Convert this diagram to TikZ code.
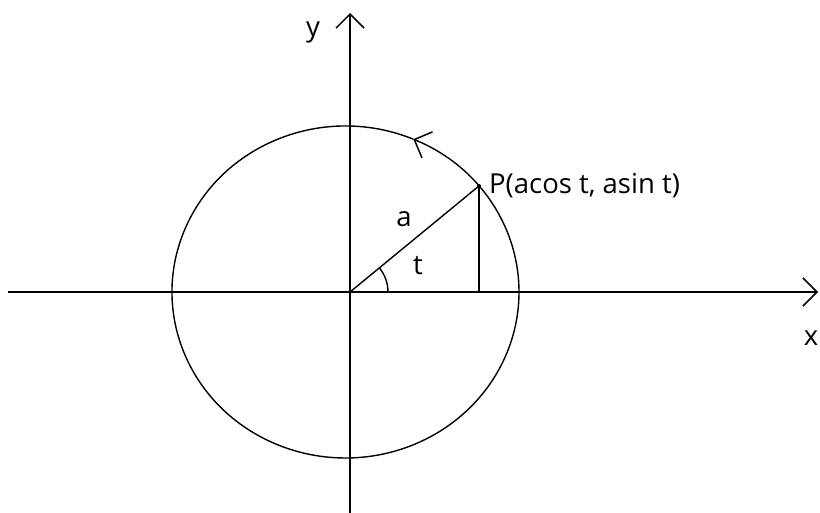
\documentclass[tikz,border=0pt]{standalone}
\usepackage{fontspec}
\setmainfont{Open Sans}
\usetikzlibrary{arrows.meta, positioning, calc}

\begin{document}
\begin{tikzpicture}[
    x=1pt, y=-1pt,
    axis/.style={line width=1.6pt, -{Straight Barb[length=14pt, width=28pt, line width=1.5pt]}},
    curve/.style={line width=1.4pt},
    lbl/.style={font=\fontsize{27.5}{31}\selectfont, inner sep=1pt}
]
\useasboundingbox[fill=white] (0,0) rectangle (820,513);

\coordinate (o) at (350,292);
\coordinate (c) at (345.5,292);
\coordinate (xl) at (8,292);
\coordinate (xr) at (818,292);
\coordinate (yb) at (350,513);
\coordinate (yt) at (350,13);
\coordinate (p) at ($(c)+(-39.7:173.5 and 166)$);
\coordinate (pf) at (p |- o);

% axes
\draw[axis] (xl) -- (xr);
\draw[axis] (yb) -- (yt);

% circle with direction mark
\draw[curve, -{Straight Barb[length=14pt, width=28pt, line width=1.5pt]}]
    ($(c)+(0:173.5 and 166)$) arc[start angle=0, end angle=-67, x radius=173.5, y radius=166];
\draw[curve] ($(c)+(-67:173.5 and 166)$) arc[start angle=-67, end angle=-360, x radius=173.5, y radius=166];

% radius, ordinate and angle
\draw[curve] (o) -- (p);
\draw[curve] (p) -- (pf);
\draw[curve] ($(o)+(38,0)$) arc[start angle=0, end angle=-40, radius=38];
\fill (p) circle (2);

% labels
\node[lbl] (ylab) at (313,32) {y};
\node[lbl] (xlab) at (811,338) {x};
\node[lbl] (alab) at (404,219) {a};
\node[lbl] (tlab) at (418,266) {t};
\node[lbl, right=9pt of p] (plab) {P(acos t, asin t)};
\end{tikzpicture}
\end{document}
